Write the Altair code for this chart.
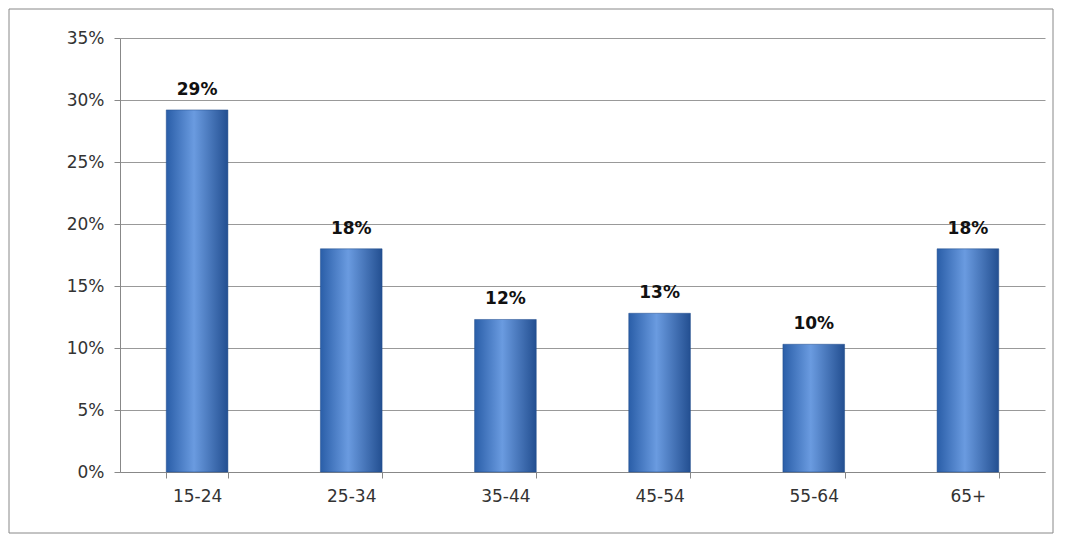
import altair as alt
import pandas as pd

ages = ['15-24', '25-34', '35-44', '45-54', '55-64', '65+']
shares = [0.292, 0.180, 0.123, 0.128, 0.103, 0.180]

df = pd.DataFrame({'age': ages, 'share': shares})
df['label'] = [f'{round(v * 100)}%' for v in shares]

grad = alt.Gradient(
    gradient='linear', x1=0, x2=1, y1=0, y2=0,
    stops=[alt.GradientStop(offset=0, color='#2a5ea8'),
           alt.GradientStop(offset=0.45, color='#6a9be0'),
           alt.GradientStop(offset=1, color='#234f91')])

FONT = 'DejaVu Sans'

base = alt.Chart(df).encode(
    x=alt.X('age:N', sort=ages, title=None,
            scale=alt.Scale(paddingInner=0.6, paddingOuter=0.3),
            axis=alt.Axis(labelAngle=0, labelFontSize=17, labelFont=FONT,
                          labelColor='#333', labelPadding=10, tickBand='extent',
                          tickColor='#888', domainColor='#888', tickSize=6)),
    y=alt.Y('share:Q', title=None,
            scale=alt.Scale(domain=[0, 0.35]),
            axis=alt.Axis(format='.0%', values=[0, .05, .1, .15, .2, .25, .3, .35],
                          labelFontSize=17, labelFont=FONT, labelColor='#333',
                          gridColor='#999', domainColor='#888', tickColor='#888',
                          labelPadding=10, tickSize=6))
)

bars = base.mark_bar(color=grad, stroke='#1f4a8a', strokeWidth=0.5)
text = base.mark_text(dy=-20, fontSize=17, fontWeight='bold', font=FONT,
                      color='#111').encode(text='label:N')

frame = alt.Chart(pd.DataFrame({'a': [0]})).mark_rect(
    fill=None, stroke='#888', strokeWidth=1
).encode(x=alt.value(-111), x2=alt.value(933), y=alt.value(-29), y2=alt.value(495))

chart = (frame + bars + text).properties(
    width=925, height=434,
    padding={'left': 112, 'top': 30, 'right': 10, 'bottom': 62},
    autosize=alt.AutoSizeParams(type='none'),
).configure_view(stroke=None)

chart.save("out.html", embed_options={"renderer": "svg", "actions": False})
